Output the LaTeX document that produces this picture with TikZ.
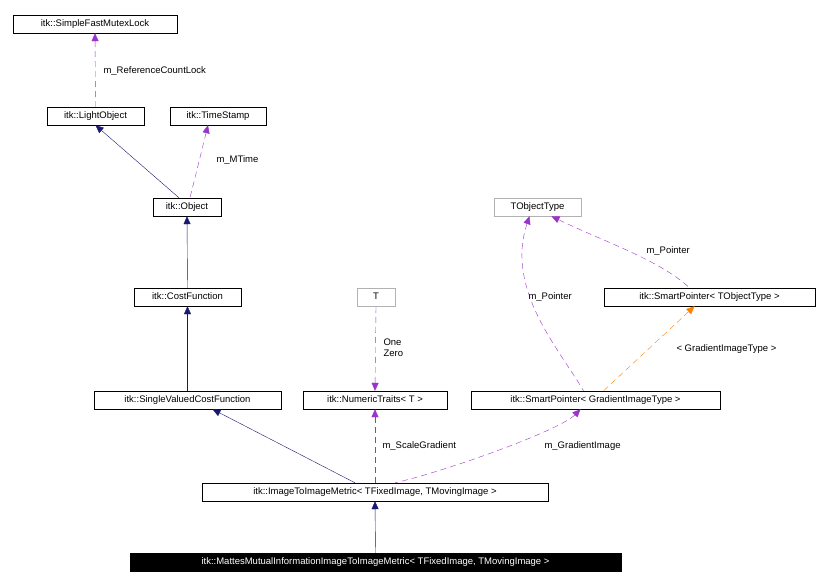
\documentclass[tikz,border=0pt]{standalone}
\usepackage{fontspec}
\setmainfont{Liberation Sans}
\usetikzlibrary{arrows.meta}
\begin{document}
\begin{tikzpicture}[x=1pt,y=-1pt,
 box/.style={draw,thin,inner sep=0pt,minimum height=18pt,font=\fontsize{9.5}{10}\selectfont,text height=7pt,text depth=2pt,minimum width=#1},
 gbox/.style={box=#1,draw=gray!60},
 inh/.style={draw={rgb,255:red,25;green,25;blue,112},{Triangle[length=8pt,width=7pt]}-},
 use/.style={draw={rgb,255:red,154;green,50;blue,205},dashed,dash pattern=on 6pt off 4pt,{Triangle[length=8pt,width=7pt]}-},
 tpl/.style={draw=orange,dashed,dash pattern=on 6pt off 4pt,{Triangle[length=8pt,width=7pt]}-},
 lbl/.style={font=\fontsize{9.5}{11}\selectfont,anchor=west,align=left}]
\useasboundingbox (0,0) rectangle (829,587);
\node[box=164pt] (mutex) at (95,24) {itk::SimpleFastMutexLock};
\node[box=97pt] (light) at (95.5,116) {itk::LightObject};
\node[box=96pt] (ts) at (218,116) {itk::TimeStamp};
\node[box=68pt] (obj) at (187,207) {itk::Object};
\node[box=107pt] (cost) at (187.5,297) {itk::CostFunction};
\node[gbox=38pt] (T) at (376,297) {T};
\node[gbox=87pt] (tot) at (537.5,207) {TObjectType};
\node[box=211pt] (spt) at (709.5,297) {itk::SmartPointer< TObjectType >};
\node[box=187pt] (svc) at (187.5,400) {itk::SingleValuedCostFunction};
\node[box=144pt] (nt) at (375,400) {itk::NumericTraits< T >};
\node[box=249pt] (spg) at (595.5,400) {itk::SmartPointer< GradientImageType >};
\node[box=346pt] (itim) at (375,492) {itk::ImageToImageMetric< TFixedImage, TMovingImage >};
\node[box=491pt,fill=black,text=white] (mm) at (375.5,562) {itk::MattesMutualInformationImageToImageMetric< TFixedImage, TMovingImage >};

\draw[use] (mutex.south) -- (light.north);
\node[lbl] at (100,71) {m\_ReferenceCountLock};
\draw[inh] (light.south) -- ([xshift=-8pt]obj.north);
\draw[use] ([xshift=-10pt]ts.south) -- ([xshift=3pt]obj.north);
\node[lbl] at (213,160) {m\_MTime};
\draw[inh] (obj.south) -- (cost.north);
\draw[inh] (cost.south) -- (svc.north);
\draw[inh] ([xshift=25pt]svc.south) -- ([xshift=-20pt]itim.north);
\draw[use] (nt.north) -- (T.south);
\node[lbl] at (380,348) {One\\Zero};
\draw[use] (nt.south) -- (itim.north);
\node[lbl] at (379,446) {m\_ScaleGradient};
\draw[use] ([xshift=-15pt]spg.south) .. controls (560,430) and (450,470) .. ([xshift=20pt]itim.north);
\node[lbl] at (541,446) {m\_GradientImage};
\draw[inh] (itim.south) -- (mm.north);
\draw[use] ([xshift=-8pt]tot.south) .. controls (505,290) and (560,350) .. ([xshift=-12pt]spg.north);
\node[lbl] at (525,297) {m\_Pointer};
\draw[tpl] ([xshift=-15pt]spt.south) -- ([xshift=8pt]spg.north);
\node[lbl] at (673,349) {< GradientImageType >};
\draw[use] ([xshift=14pt]tot.south) .. controls (600,240) and (660,260) .. ([xshift=-20pt]spt.north);
\node[lbl] at (643,251) {m\_Pointer};
\end{tikzpicture}
\end{document}
